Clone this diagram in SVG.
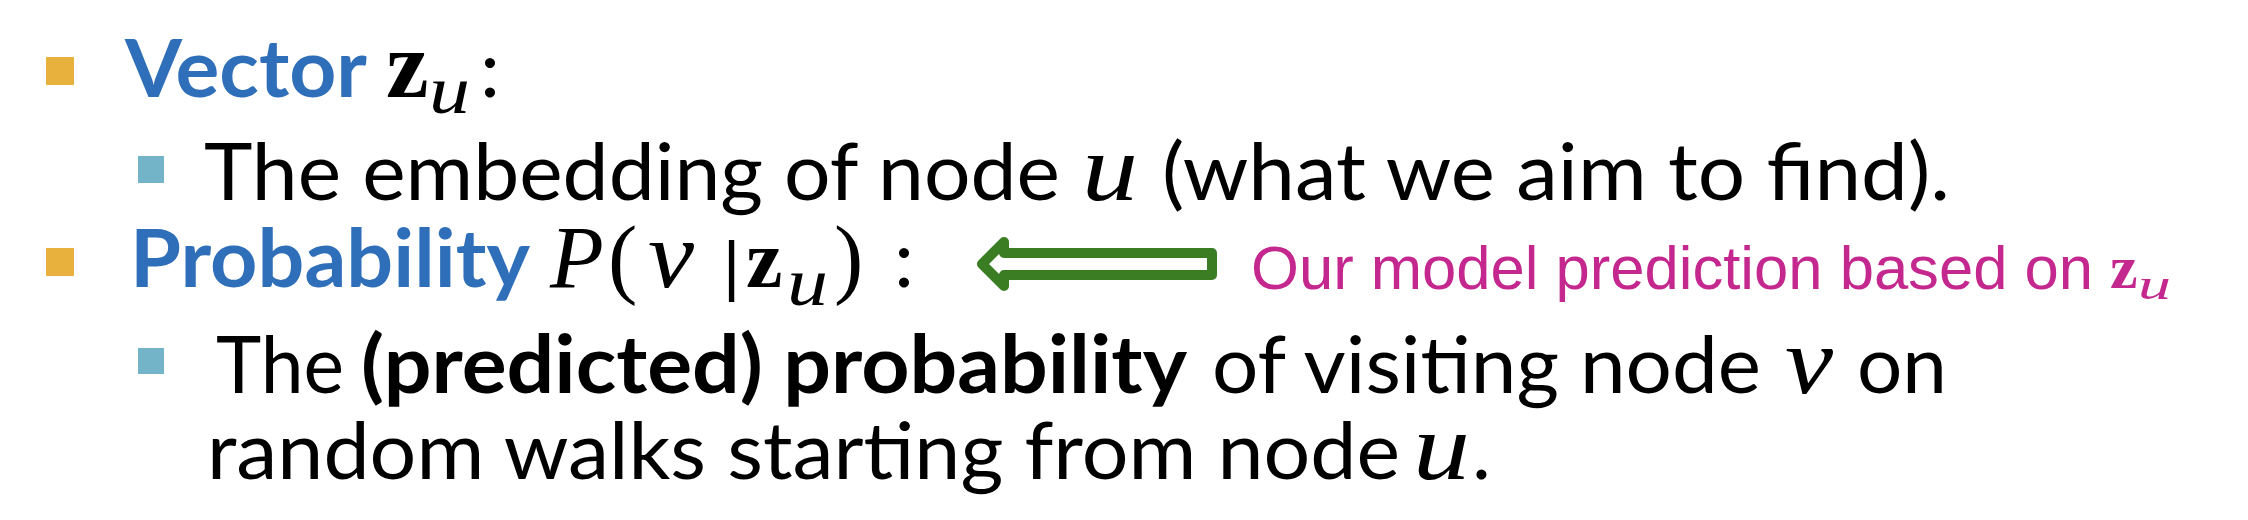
<svg xmlns="http://www.w3.org/2000/svg" width="2248" height="520" viewBox="0 0 2248 520">
<style>
.t{font-family:Lato,"Open Sans","Liberation Sans",sans-serif;font-size:80px;fill:#000}
.b{font-weight:700}
.blue{fill:#2F6FBA}
.mi{font-family:"Liberation Serif","DejaVu Serif",serif;font-style:italic;fill:#000}
.mb{font-family:"Liberation Serif","DejaVu Serif",serif;font-weight:700;fill:#000}
.mr{font-family:"Liberation Serif","DejaVu Serif",serif;fill:#000}
.bar{font-family:"Liberation Sans",Arial,sans-serif;fill:#000}
.pink{font-family:"Liberation Sans",Arial,sans-serif;font-size:61px;fill:#C4288F}
.pk{fill:#C4288F}
.b1{fill:#E8B13E}
.b2{fill:#74B4C9}
.arrow{fill:#FFFFFF;stroke:#3A7D22;stroke-width:10;stroke-linejoin:round}
</style>
<rect width="2248" height="520" fill="#FFFFFF"/>

<g id="item-vector">
  <rect class="b1" x="46" y="57" width="28" height="28"/>
  <text class="t b blue" x="125" y="97" textLength="242" lengthAdjust="spacingAndGlyphs">Vector</text>
  <text class="mb" x="386" y="97" font-size="96">z</text>
  <text class="mi" x="429" y="113" font-size="68" textLength="41" lengthAdjust="spacingAndGlyphs">u</text>
  <text class="t" x="480" y="97">:</text>
</g>

<g id="item-embedding">
  <rect class="b2" x="138" y="156" width="26" height="27"/>
  <text class="t" x="204" y="200" textLength="856" lengthAdjust="spacingAndGlyphs">The embedding of node</text>
  <text class="mi" x="1082" y="200" font-size="95" textLength="56" lengthAdjust="spacingAndGlyphs">u</text>
  <text class="t" x="1162" y="200" textLength="788" lengthAdjust="spacingAndGlyphs">(what we aim to find).</text>
</g>

<g id="item-probability">
  <rect class="b1" x="46" y="248" width="28" height="28"/>
  <text class="t b blue" x="130" y="287" textLength="400" lengthAdjust="spacingAndGlyphs">Probability</text>
  <text class="mi" x="550" y="287" font-size="88">P</text>
  <text class="mr" x="608" y="287" font-size="88">(</text>
  <text class="mi" x="648" y="287" font-size="95" textLength="46" lengthAdjust="spacingAndGlyphs">v</text>
  <text class="bar" x="723" y="288" font-size="66">|</text>
  <text class="mb" x="746" y="287" font-size="82">z</text>
  <text class="mi" x="787" y="305" font-size="68" textLength="41" lengthAdjust="spacingAndGlyphs">u</text>
  <text class="mr" x="834" y="287" font-size="88">)</text>
  <text class="t" x="894" y="287">:</text>
</g>

<g id="connectors">
  <path class="arrow" d="M1212,253 H1004 V242 L982,264 L1004,286 V275 H1212 Z"/>
</g>

<g id="annotation">
  <text class="pink" x="1251" y="289" textLength="842" lengthAdjust="spacingAndGlyphs">Our model prediction based on</text>
  <text class="mb pk" x="2110" y="288" font-size="62" style="fill:#C4288F">z</text>
  <text class="mi pk" x="2138" y="299" font-size="44" textLength="33" lengthAdjust="spacingAndGlyphs" style="fill:#C4288F">u</text>
</g>

<g id="item-predicted">
  <rect class="b2" x="138" y="348" width="26" height="26"/>
  <text class="t" x="216" y="393" textLength="128" lengthAdjust="spacingAndGlyphs">The</text>
  <text class="t b" x="361" y="393" textLength="826" lengthAdjust="spacingAndGlyphs">(predicted) probability</text>
  <text class="t" x="1212" y="393" textLength="549" lengthAdjust="spacingAndGlyphs">of visiting node</text>
  <text class="mi" x="1785" y="393" font-size="95" textLength="48" lengthAdjust="spacingAndGlyphs">v</text>
  <text class="t" x="1857" y="393" textLength="90" lengthAdjust="spacingAndGlyphs">on</text>
  <text class="t" x="207" y="479" textLength="1193" lengthAdjust="spacingAndGlyphs">random walks starting from node</text>
  <text class="mi" x="1413" y="479" font-size="95" textLength="57" lengthAdjust="spacingAndGlyphs">u</text>
  <text class="t" x="1472" y="479">.</text>
</g>
</svg>
